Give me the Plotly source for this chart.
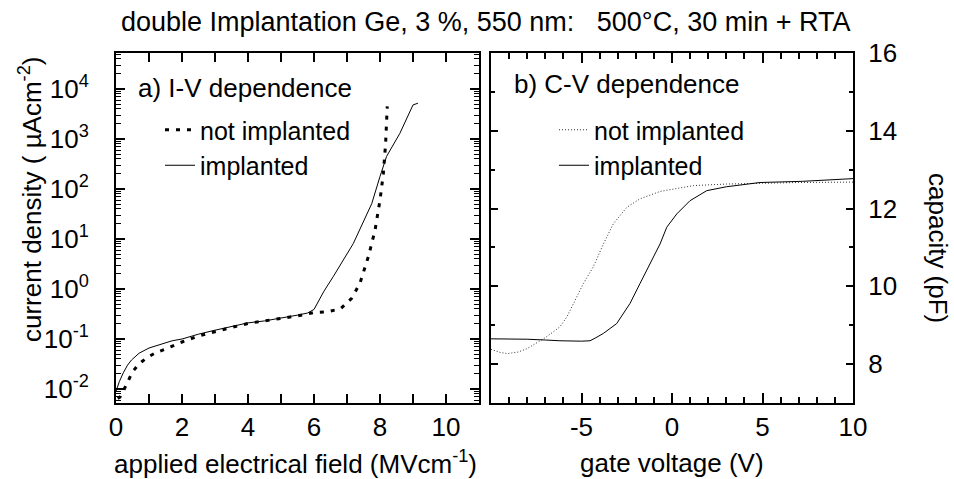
import plotly.graph_objects as go

# ---------------- data ----------------
iv_field_not = [0.05, 0.12, 0.25, 0.37, 0.5, 0.63, 0.8, 0.98, 1.2, 1.5, 2.0, 2.5, 3.05, 3.5, 4.0,
                4.5, 5.0, 5.5, 6.0, 6.4, 6.8, 7.14, 7.39, 7.65, 7.85, 8.0, 8.1, 8.17, 8.22]
iv_j_not = [0.0065, 0.0069, 0.010, 0.015, 0.022, 0.028, 0.036, 0.044, 0.053, 0.063, 0.087, 0.115,
            0.145, 0.17, 0.205, 0.23, 0.26, 0.29, 0.34, 0.35, 0.40, 0.65, 1.29, 4.5, 15, 60, 200,
            810, 4500]

iv_field_imp = [0.0, 0.1, 0.22, 0.35, 0.47, 0.7, 1.0, 1.4, 1.7, 2.0, 2.5, 3.0, 3.5, 4.0, 4.5, 5.0,
                5.5, 5.8, 6.0, 6.3, 6.59, 7.19, 7.75, 8.0, 8.2, 8.6, 9.0, 9.15]
iv_j_imp = [0.009, 0.014, 0.021, 0.03, 0.038, 0.052, 0.066, 0.08, 0.092, 0.1, 0.125, 0.15, 0.18,
            0.21, 0.23, 0.26, 0.3, 0.33, 0.39, 0.9, 1.8, 8.1, 51, 178, 450, 1290, 4800, 5200]

cv_v_not = [-10, -9.5, -9.1, -8.5, -8, -7.5, -7, -6.5, -6.19, -5.8, -5.45, -4.9, -4.35, -3.79,
            -3.24, -2.5, -1.77, -0.66, 1.18, 3.0, 5.0, 7.0, 10]
cv_c_not = [8.38, 8.3, 8.27, 8.31, 8.4, 8.53, 8.68, 8.85, 8.96, 9.22, 9.56, 10.07, 10.5, 11.09,
            11.61, 12.03, 12.25, 12.44, 12.59, 12.63, 12.65, 12.67, 12.68]

cv_v_imp = [-10, -9, -8, -7, -6.19, -5, -4.53, -4.2, -3.79, -3.06, -2.32, -1.77, -1.22, -0.66,
            -0.29, 0.26, 0.99, 1.92, 3.0, 4.86, 7.2, 9, 10]
cv_c_imp = [8.65, 8.65, 8.64, 8.62, 8.6, 8.59, 8.6, 8.68, 8.79, 9.04, 9.56, 10.07, 10.58, 11.09,
            11.52, 11.86, 12.2, 12.46, 12.56, 12.67, 12.7, 12.75, 12.77]

series_names = ["not implanted", "implanted"]
title_text = "double Implantation Ge, 3 %, 550 nm:   500°C, 30 min + RTA"

iv_tickvals = [0.01, 0.1, 1, 10, 100, 1000, 10000]
iv_ticktext = ["10<sup>-2</sup>", "10<sup>-1</sup>", "10<sup>0</sup>", "10<sup>1</sup>",
               "10<sup>2</sup>", "10<sup>3</sup>", "10<sup>4</sup>"]
field_tickvals = [0, 2, 4, 6, 8, 10]
field_ticktext = ["0", "2", "4", "6", "8", "10"]
gate_tickvals = [-5, 0, 5, 10]
gate_ticktext = ["-5", "0", "5", "10"]
cap_tickvals = [8, 10, 12, 14, 16]
cap_ticktext = ["8", "10", "12", "14", "16"]

# ---------------- layout helpers ----------------
W, H = 954, 479
def px(x):
    return x / W
def py(y):
    return 1 - y / H

FONT = "Arial, Liberation Sans, sans-serif"
FS = 26

fig = go.Figure()

fig.add_trace(go.Scatter(x=iv_field_not, y=iv_j_not, mode="lines", name=series_names[0],
                         line=dict(color="black", width=3, dash="4px,7px"),
                         xaxis="x", yaxis="y", legend="legend", legendgroup="a1"))
fig.add_trace(go.Scatter(x=iv_field_imp, y=iv_j_imp, mode="lines", name=series_names[1],
                         line=dict(color="black", width=1),
                         xaxis="x", yaxis="y", legend="legend", legendgroup="a2"))
fig.add_trace(go.Scatter(x=cv_v_not, y=cv_c_not, mode="lines", name=series_names[0],
                         line=dict(color="#333333", width=1, dash="1px,2px"),
                         xaxis="x2", yaxis="y2", legend="legend2", legendgroup="b1"))
fig.add_trace(go.Scatter(x=cv_v_imp, y=cv_c_imp, mode="lines", name=series_names[1],
                         line=dict(color="black", width=1),
                         xaxis="x2", yaxis="y2", legend="legend2", legendgroup="b2"))

ax_common = dict(showline=True, linecolor="black", linewidth=2, mirror="allticks",
                 ticks="inside", tickcolor="black", showgrid=False, zeroline=False,
                 automargin=False,
                 tickfont=dict(family=FONT, size=FS, color="black"))

ydom = [py(403), py(53)]

fig.update_layout(
    width=W, height=H, margin=dict(l=0, r=0, t=0, b=0, autoexpand=False),
    paper_bgcolor="white", plot_bgcolor="white",
    font=dict(family=FONT, size=FS, color="black"),
    xaxis=dict(domain=[px(116), px(479)], range=[0, 11],
               tickmode="array", tickvals=field_tickvals, ticktext=field_ticktext,
               ticklen=9, tickwidth=1.5, anchor="y",
               minor=dict(dtick=1, tick0=0, ticks="inside", ticklen=9, tickwidth=1.5,
                          tickcolor="black"),
               ticklabelstandoff=0, **ax_common),
    yaxis=dict(domain=ydom, type="log", range=[-2.28, 4.72],
               tickmode="array", tickvals=iv_tickvals, ticktext=iv_ticktext,
               ticklen=9, tickwidth=1.5, anchor="x",
               minor=dict(dtick="D1", ticks="inside", ticklen=5, tickwidth=1, tickcolor="black"),
               ticklabelstandoff=20, **ax_common),
    xaxis2=dict(domain=[px(491), px(853)], range=[-10, 10],
                tickmode="array", tickvals=gate_tickvals, ticktext=gate_ticktext,
                ticklen=10, tickwidth=1.5, anchor="y2",
                minor=dict(dtick=1, tick0=0, ticks="inside", ticklen=6, tickwidth=1.5,
                           tickcolor="black"),
                ticklabelstandoff=0, **ax_common),
    yaxis2=dict(domain=ydom, range=[7, 16],
                tickmode="array", tickvals=cap_tickvals, ticktext=cap_ticktext,
                side="right", ticklen=7, tickwidth=1.5, anchor="x2",
                minor=dict(dtick=1, tick0=0, ticks="inside", ticklen=4, tickwidth=1.5,
                           tickcolor="black"),
                ticklabelstandoff=8, **ax_common),
    legend=dict(x=px(160), y=py(107), xanchor="left", yanchor="top",
                bgcolor="rgba(0,0,0,0)", font=dict(family=FONT, size=25),
                tracegroupgap=0, itemclick=False),
    legend2=dict(x=px(554), y=py(107), xanchor="left", yanchor="top",
                 bgcolor="rgba(0,0,0,0)", font=dict(family=FONT, size=25),
                 tracegroupgap=0, itemclick=False),
    showlegend=True,
)

annos = [
    dict(text=title_text, x=px(485), y=py(22), size=27),
    dict(text="a) I-V dependence", x=px(136), y=py(88), size=FS, xanchor="left"),
    dict(text="b) C-V dependence", x=px(512), y=py(84), size=FS, xanchor="left"),
    dict(text="applied electrical field (MVcm<sup>-1</sup>)", x=px(295), y=py(462), size=FS),
    dict(text="gate voltage (V)", x=px(672), y=py(463), size=FS),
    dict(text="current density ( µAcm<sup>-2</sup>)", x=px(30), y=py(200), size=FS, angle=-90),
    dict(text="capacity (pF)", x=px(938), y=py(248), size=FS, angle=90),
]
for a in annos:
    fig.add_annotation(text=a["text"], x=a["x"], y=a["y"], xref="paper", yref="paper",
                       showarrow=False, xanchor=a.get("xanchor", "center"), yanchor="middle",
                       textangle=a.get("angle", 0),
                       font=dict(family=FONT, size=a["size"], color="black"))

fig.write_html("out.html")
